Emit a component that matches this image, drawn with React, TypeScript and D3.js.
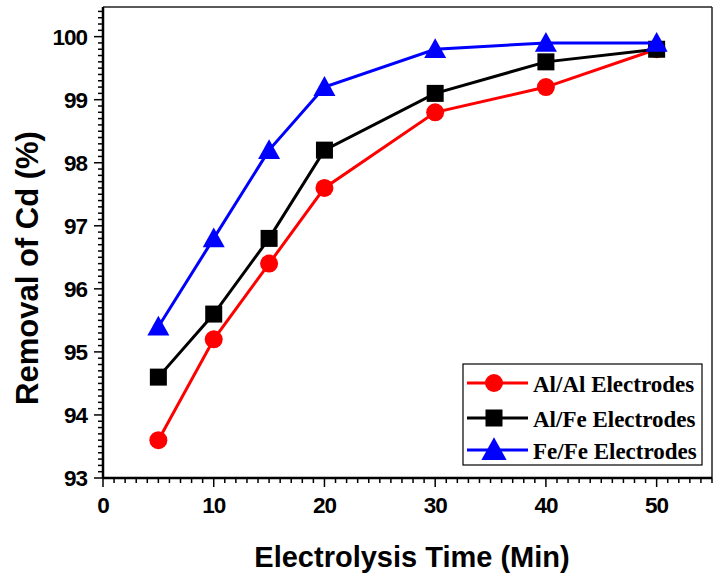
import React from "react";
import * as d3 from "d3";

const times = [5, 10, 15, 20, 30, 40, 50];
const alAl = [93.6, 95.2, 96.4, 97.6, 98.8, 99.2, 99.8];
const alFe = [94.6, 95.6, 96.8, 98.2, 99.1, 99.6, 99.8];
const feFe = [95.4, 96.8, 98.2, 99.2, 99.8, 99.9, 99.9];
const xTicks = [0, 10, 20, 30, 40, 50];
const yTicks = [93, 94, 95, 96, 97, 98, 99, 100];
const seriesNames = ["Al/Al Electrodes", "Al/Fe Electrodes", "Fe/Fe Electrodes"];

const W = 717, H = 574;
const L = 103, R = 712, T = 7, B = 478;

export default function App() {
  const x = d3.scaleLinear().domain([0, 55]).range([L, R]);
  const y = d3.scaleLinear().domain([93, 100.47]).range([B, T]);
  const line = d3.line<[number, number]>().x(d => x(d[0])).y(d => y(d[1]));
  const series = [
    { name: seriesNames[0], vals: alAl, color: "#ff0000", shape: "circle" },
    { name: seriesNames[1], vals: alFe, color: "#000000", shape: "square" },
    { name: seriesNames[2], vals: feFe, color: "#0000ff", shape: "triangle" },
  ];
  const marker = (shape: string, cx: number, cy: number, color: string, key: any, k = 1) => {
    if (shape === "circle") return <circle key={key} cx={cx} cy={cy} r={9 * k} fill={color} />;
    if (shape === "square") return <rect key={key} x={cx - 8.5 * k} y={cy - 8.5 * k} width={17 * k} height={17 * k} fill={color} />;
    const s = 11 * k;
    return <path key={key} d={`M${cx},${cy - s} L${cx + s},${cy + s * 0.8} L${cx - s},${cy + s * 0.8} Z`} fill={color} />;
  };
  const xMinor = d3.range(0, 56, 1);
  const yMinor = d3.range(930, 1005, 1).map(v => v / 10);
  const font = "Arial, 'Liberation Sans', sans-serif";
  const legendRows = [383, 418, 450];
  return (
    <svg width={W} height={H} style={{ position: "absolute", left: 0, top: 0, background: "#fff" }}>
      <rect x={0} y={0} width={W} height={H} fill="#fff" />
      {/* frame */}
      <line x1={L} x2={R} y1={T} y2={T} stroke="#222" strokeWidth={1.5} />
      <line x1={R} x2={R} y1={T} y2={B} stroke="#222" strokeWidth={1.5} />
      {/* series */}
      {series.map((s, i) => (
        <g key={i}>
          <path d={line(times.map((t, j) => [t, s.vals[j]]) as any) || ""} fill="none" stroke={s.color} strokeWidth={3} />
          {times.map((t, j) => marker(s.shape, x(t), y(s.vals[j]), s.color, j))}
        </g>
      ))}
      {/* axes */}
      <line x1={L} x2={R} y1={B} y2={B} stroke="#000" strokeWidth={2.5} />
      <line x1={L} x2={L} y1={T} y2={B} stroke="#000" strokeWidth={2.5} />
      {xMinor.map(v => (
        <line key={"xm" + v} x1={x(v)} x2={x(v)} y1={B} y2={B + (v % 10 === 0 ? 9 : 5)} stroke="#000" strokeWidth={1.5} />
      ))}
      {yMinor.map(v => (
        <line key={"ym" + v} x1={L} x2={L - (Math.abs(v - Math.round(v)) < 1e-6 ? 9 : 5)} y1={y(v)} y2={y(v)} stroke="#000" strokeWidth={1.5} />
      ))}
      {xTicks.map(v => (
        <text key={"xt" + v} x={x(v)} y={513} textAnchor="middle" fontFamily={font} fontWeight="bold" fontSize={22.5} letterSpacing={-1}>{v}</text>
      ))}
      {yTicks.map(v => (
        <text key={"yt" + v} x={87} y={y(v) + 8} textAnchor="end" fontFamily={font} fontWeight="bold" fontSize={22.5} letterSpacing={-1}>{v}</text>
      ))}
      <text x={412} y={567} textAnchor="middle" fontFamily={font} fontWeight="bold" fontSize={29}>Electrolysis Time (Min)</text>
      <text transform={`translate(38,${268}) rotate(-90)`} textAnchor="middle" fontFamily={font} fontWeight="bold" fontSize={31}>Removal of Cd (%)</text>
      {/* legend */}
      <rect x={463} y={364} width={239} height={101} fill="#fff" stroke="#000" strokeWidth={1.2} />
      {series.map((s, i) => (
        <g key={"lg" + i}>
          <line x1={467} x2={528} y1={legendRows[i]} y2={legendRows[i]} stroke={s.color} strokeWidth={3} />
          {marker(s.shape, 494, legendRows[i], s.color, "m", s.shape === "triangle" ? 1.15 : 1)}
          <text x={533} y={legendRows[i] + 8.5} fontFamily="'Liberation Serif', 'Times New Roman', serif" fontWeight="bold" fontSize={23}>{s.name}</text>
        </g>
      ))}
    </svg>
  );
}
